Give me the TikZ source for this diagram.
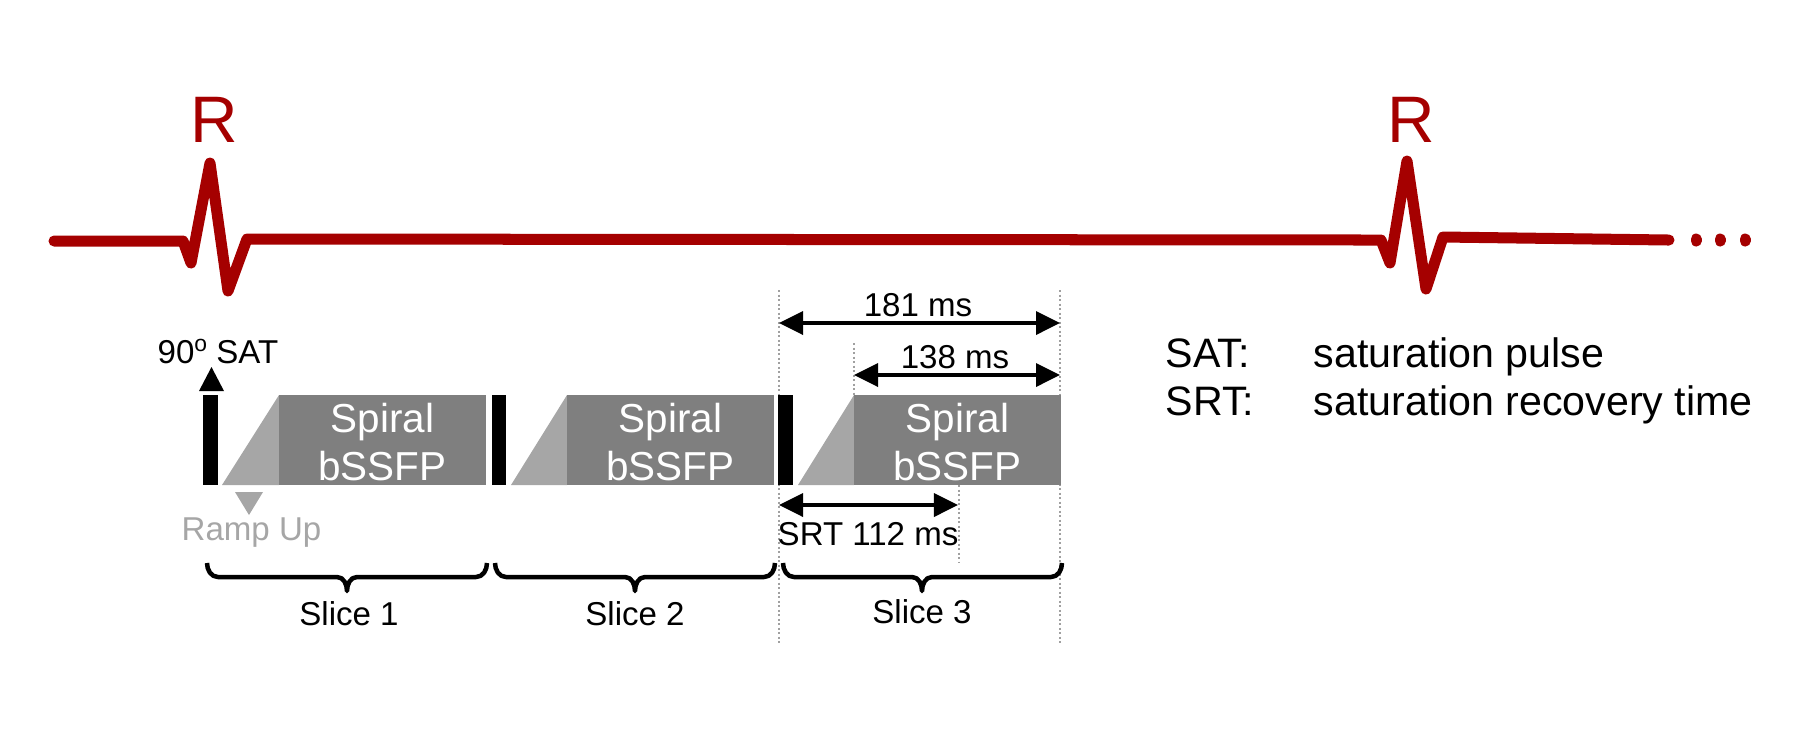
\documentclass[tikz,border=0pt]{standalone}
\usepackage{fontspec}
\setmainfont{Liberation Sans}
\usetikzlibrary{arrows.meta}
\definecolor{ecgred}{HTML}{A50000}
\definecolor{seqgray}{HTML}{7F7F7F}
\definecolor{rampgray}{HTML}{A6A6A6}
\definecolor{dotgray}{HTML}{A0A0A0}
\begin{document}
\begin{tikzpicture}[x=0.01cm,y=-0.01cm,
  ecg/.style={ecgred, line width=1.1mm, line join=round, line cap=round},
  dimline/.style={line width=0.35mm, {Triangle[length=2.4mm,width=2.3mm]}-{Triangle[length=2.4mm,width=2.3mm]}},
  guide/.style={dotgray, line width=0.18mm, dash pattern=on 0.2mm off 0.25mm},
  small/.style={font=\fontsize{9.4}{11}\selectfont, inner sep=0pt, anchor=base},
  legend/.style={font=\fontsize{11.7}{14}\selectfont, inner sep=0pt, anchor=base west},
  rlabel/.style={font=\fontsize{18.7}{22}\selectfont, text=ecgred, inner sep=0pt, anchor=base},
  seqtext/.style={font=\fontsize{11.5}{13.9}\selectfont, text=white, align=center, inner sep=0pt},
  brc/.style={line width=0.45mm, line join=round},
]
\useasboundingbox (0,0) rectangle (1800,750);

% ECG trace
\draw[ecg] (54,241) -- (183,241) -- (191,263) -- (210,163) -- (228,291) -- (247,239)
  -- (1381,240) -- (1390,263) -- (1407,161) -- (1426,289) -- (1443,237) -- (1669,240);
\draw[ecg] (1696,239) -- (1696,241);
\draw[ecg] (1720,239) -- (1720,241);
\draw[ecg] (1745,239) -- (1745,241);
\node[rlabel] (r1) at (214,142) {R};
\node[rlabel] (r2) at (1411,142) {R};

% guide lines
\coordinate (g1t) at (779,290); \coordinate (g1b) at (779,643);
\coordinate (g2t) at (1060,290); \coordinate (g2b) at (1060,643);
\coordinate (g3t) at (854,343); \coordinate (g3b) at (854,395);
\coordinate (g4t) at (959,485); \coordinate (g4b) at (959,562);
\draw[guide] (g1t) -- (g1b);
\draw[guide] (g2t) -- (g2b);
\draw[guide] (g3t) -- (g3b);
\draw[guide] (g4t) -- (g4b);

% saturation pulses
\fill (203,395) rectangle (218,485);
\fill (492,395) rectangle (506,485);
\fill (778,395) rectangle (793,485);
\fill (199,391) -- (224,391) -- (211.5,367) -- cycle;

% ramps
\fill[rampgray] (222,485) -- (279,395) -- (279,485) -- cycle;
\fill[rampgray] (511,485) -- (567,395) -- (567,485) -- cycle;
\fill[rampgray] (798,485) -- (854,395) -- (854,485) -- cycle;

% readouts
\fill[seqgray] (279,395) rectangle (486,485);
\fill[seqgray] (567,395) rectangle (774,485);
\fill[seqgray] (854,395) rectangle (1061,485);
\node[seqtext] (sp1) at (382.5,442) {Spiral\\bSSFP};
\node[seqtext] (sp2) at (670.5,442) {Spiral\\bSSFP};
\node[seqtext] (sp3) at (957.5,442) {Spiral\\bSSFP};

% labels near slice 1
\node[small, anchor=base west] (sat) at (157,363) {90{\fontsize{6.5}{7}\selectfont\raisebox{3.3pt}{o}} SAT};
\fill[rampgray] (235,492) -- (263,492) -- (249,515) -- cycle;
\node[small, anchor=base west, text=rampgray] (ramp) at (181,540) {Ramp Up};

% dimensions
\coordinate (a1) at (779,323); \coordinate (a2) at (1060,323);
\coordinate (b1) at (854,375); \coordinate (b2) at (1060,375);
\coordinate (c1) at (779,505); \coordinate (c2) at (958,505);
\draw[dimline] (a1) -- (a2);
\draw[dimline] (b1) -- (b2);
\draw[dimline] (c1) -- (c2);
\node[small] (t181) at (918,316) {181 ms};
\node[small] (t138) at (955,368) {138 ms};
\node[small, anchor=base west] (tsrt) at (777,545) {SRT 112 ms};

% braces
\foreach \xa/\xb/\xm/\nm in {207/487/347/s1, 495/775/635/s2, 783/1062/922/s3}{
  \coordinate (\nm a) at (\xa,563);
  \coordinate (\nm b) at (\xb,563);
  \coordinate (\nm m) at (\xm,591);
  \draw[brc] (\nm a) to[out=-90,in=180] ++(11,14) -- ++(\xm-\xa-21,0)
    to[out=0,in=90] (\nm m) to[out=90,in=180] ++(10,-14)
    -- ++(\xb-\xm-21,0) to[out=0,in=-90] (\nm b);
}
\node[small] (sl1) at (349,625) {Slice 1};
\node[small] (sl2) at (635,625) {Slice 2};
\node[small] (sl3) at (922,623) {Slice 3};

% legend
\node[legend] (k1) at (1165,367) {SAT:};
\node[legend] (v1) at (1313,367) {saturation pulse};
\node[legend] (k2) at (1165,415) {SRT:};
\node[legend] (v2) at (1313,415) {saturation recovery time};
\end{tikzpicture}
\end{document}
